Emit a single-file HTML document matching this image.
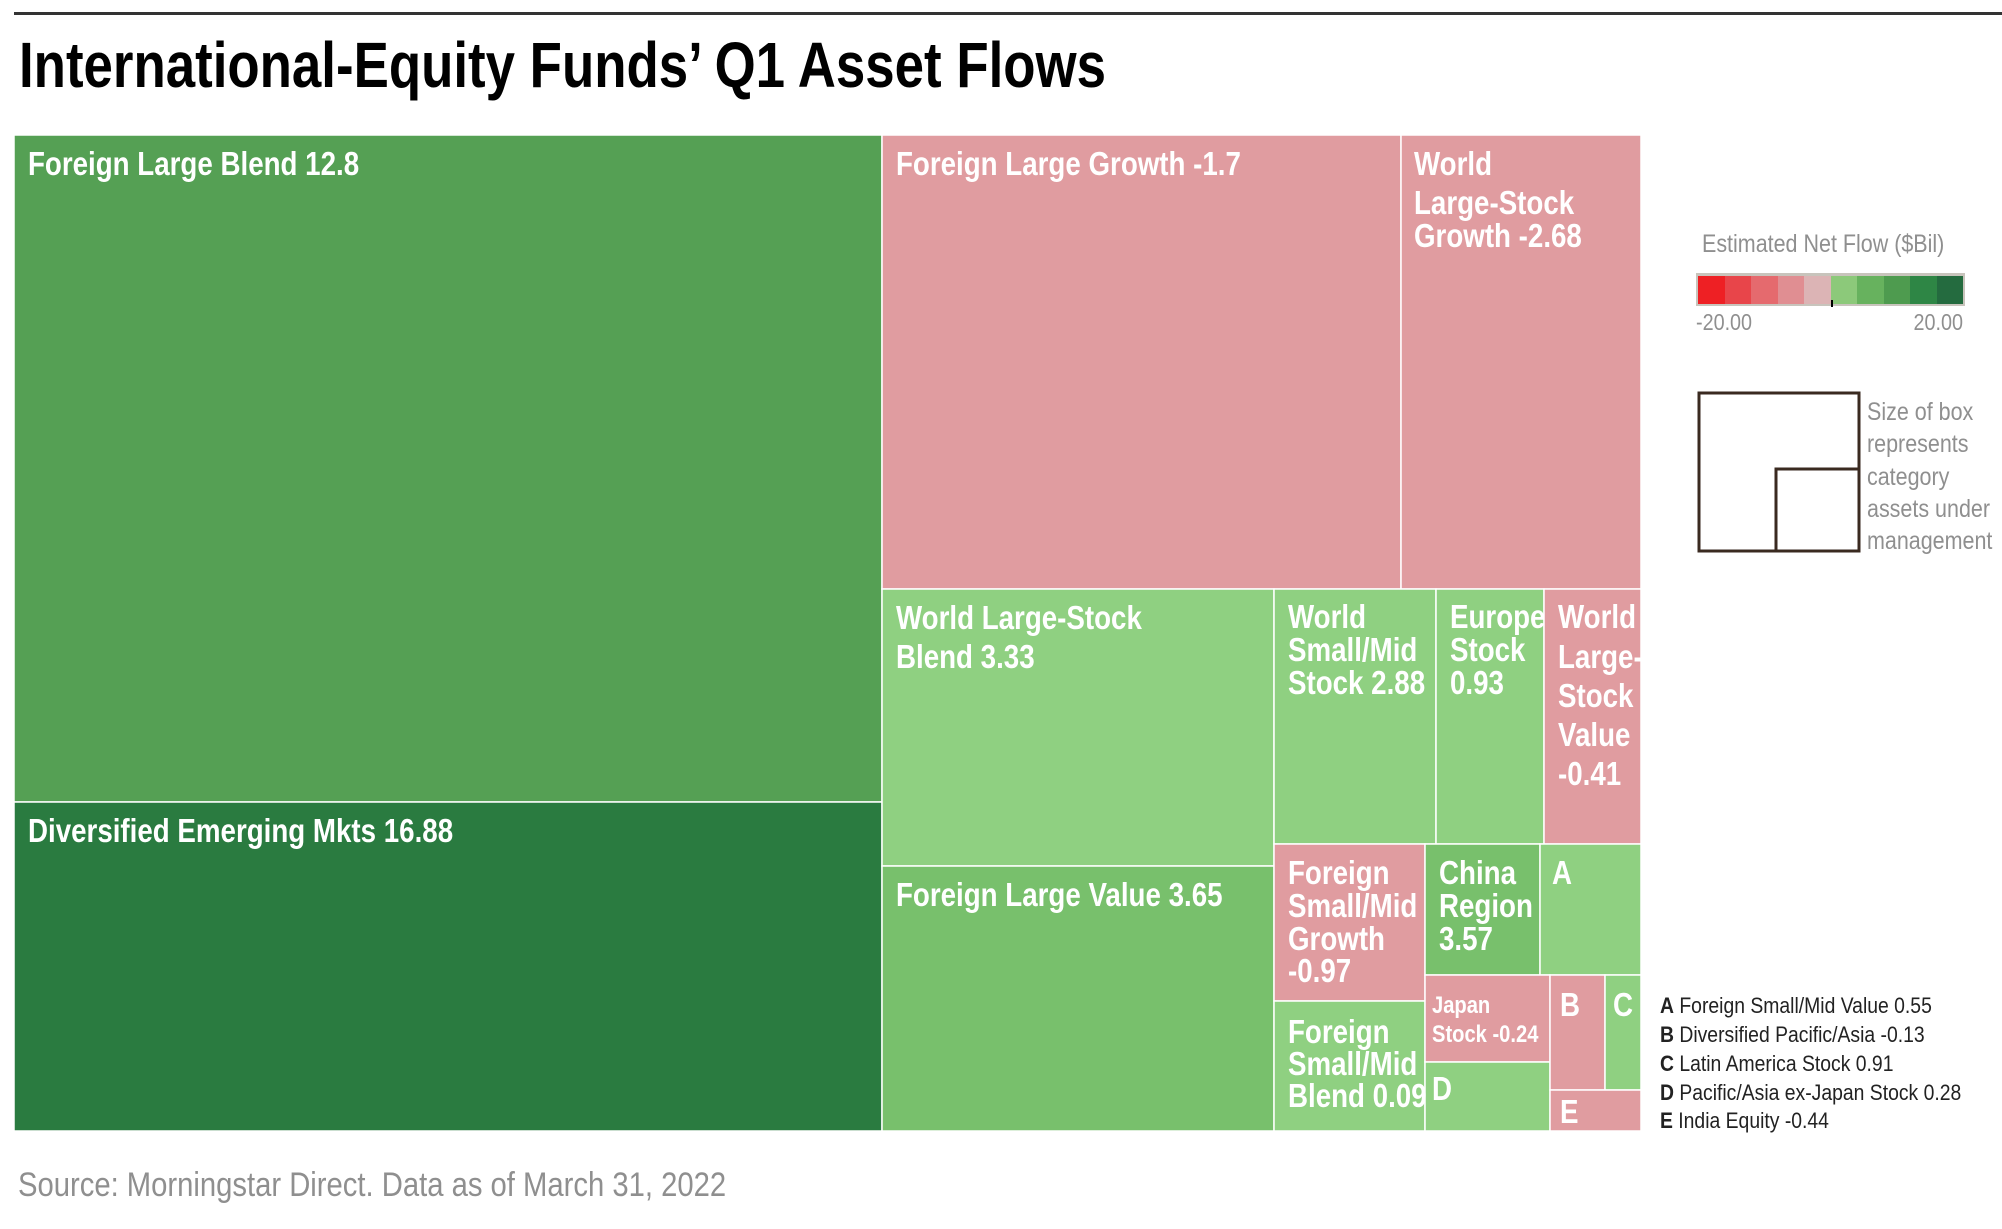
<!DOCTYPE html>
<html><head><meta charset="utf-8"><style>
html,body{margin:0;padding:0;background:#fff;}
svg{display:block;}
text{transform-box:fill-box;transform-origin:0 0;}
.l{font-family:"Liberation Sans Narrow","Liberation Sans",sans-serif;font-weight:bold;fill:#fff;font-size:33px;transform:scaleX(0.84);}
.s{font-size:24px;}
.g{font-family:"Liberation Sans Narrow","Liberation Sans",sans-serif;fill:#8f8f8f;transform:scaleX(0.86);}
.k{font-family:"Liberation Sans Narrow","Liberation Sans",sans-serif;fill:#222;font-size:22px;transform:scaleX(0.88);}
.r{transform-origin:100% 0;}
</style></head><body>
<svg width="2002" height="1229" viewBox="0 0 2002 1229" xmlns="http://www.w3.org/2000/svg">
<rect x="14" y="12" width="1988" height="3" fill="#333"/>
<text x="19" y="87" font-family="Liberation Sans Narrow, Liberation Sans, sans-serif" font-weight="bold" font-size="64" fill="#000" textLength="1087" lengthAdjust="spacingAndGlyphs">International-Equity Funds’ Q1 Asset Flows</text>

<g stroke="#fff" stroke-width="1.5">
<rect x="14" y="135" width="868" height="667" fill="#55a054"/>
<rect x="14" y="802" width="868" height="329" fill="#2a7b40"/>
<rect x="882" y="135" width="519" height="454" fill="#e09ca0"/>
<rect x="1401" y="135" width="240" height="454" fill="#e09ca0"/>
<rect x="882" y="589" width="392" height="277" fill="#8fd081"/>
<rect x="882" y="866" width="392" height="265" fill="#78c06c"/>
<rect x="1274" y="589" width="162" height="255" fill="#8fd081"/>
<rect x="1436" y="589" width="108" height="255" fill="#8fd081"/>
<rect x="1544" y="589" width="97" height="255" fill="#e09ca0"/>
<rect x="1274" y="844" width="151" height="157" fill="#e09ca0"/>
<rect x="1274" y="1001" width="151" height="130" fill="#8fd081"/>
<rect x="1425" y="844" width="115" height="131" fill="#78c06c"/>
<rect x="1540" y="844" width="101" height="131" fill="#8fd081"/>
<rect x="1425" y="975" width="125" height="87" fill="#e09ca0"/>
<rect x="1425" y="1062" width="125" height="69" fill="#8fd081"/>
<rect x="1550" y="975" width="55" height="115" fill="#e09ca0"/>
<rect x="1605" y="975" width="36" height="115" fill="#8fd081"/>
<rect x="1550" y="1090" width="91" height="41" fill="#e09ca0"/>
</g>

<text class="l" x="28" y="175">Foreign Large Blend 12.8</text>
<text class="l" x="28" y="842">Diversified Emerging Mkts 16.88</text>
<text class="l" x="896" y="175">Foreign Large Growth -1.7</text>
<text class="l" x="1414" y="175">World</text>
<text class="l" x="1414" y="214">Large-Stock</text>
<text class="l" x="1414" y="247">Growth -2.68</text>
<text class="l" x="896" y="629">World Large-Stock</text>
<text class="l" x="896" y="668">Blend 3.33</text>
<text class="l" x="896" y="906">Foreign Large Value 3.65</text>
<text class="l" x="1288" y="628">World</text>
<text class="l" x="1288" y="661">Small/Mid</text>
<text class="l" x="1288" y="694">Stock 2.88</text>
<text class="l" x="1450" y="628">Europe</text>
<text class="l" x="1450" y="661">Stock</text>
<text class="l" x="1450" y="694">0.93</text>
<text class="l" x="1558" y="628">World</text>
<text class="l" x="1558" y="668">Large-</text>
<text class="l" x="1558" y="707">Stock</text>
<text class="l" x="1558" y="746">Value</text>
<text class="l" x="1558" y="785">-0.41</text>
<text class="l" x="1288" y="884">Foreign</text>
<text class="l" x="1288" y="917">Small/Mid</text>
<text class="l" x="1288" y="950">Growth</text>
<text class="l" x="1288" y="982">-0.97</text>
<text class="l" x="1439" y="884">China</text>
<text class="l" x="1439" y="917">Region</text>
<text class="l" x="1439" y="950">3.57</text>
<text class="l" x="1552" y="884">A</text>
<text class="l" x="1288" y="1043">Foreign</text>
<text class="l" x="1288" y="1075">Small/Mid</text>
<text class="l" x="1288" y="1107">Blend 0.09</text>
<text class="l s" x="1432" y="1013">Japan</text>
<text class="l s" x="1432" y="1042">Stock -0.24</text>
<text class="l" x="1432" y="1100">D</text>
<text class="l" x="1560" y="1016">B</text>
<text class="l" x="1613" y="1016">C</text>
<text class="l" x="1560" y="1123">E</text>

<text class="g" x="1702" y="252" font-size="25">Estimated Net Flow ($Bil)</text>
<rect x="1696" y="273" width="269" height="33" fill="#c8c4bc"/>
<g>
<rect x="1698" y="276" width="27" height="28" fill="#ee2024"/>
<rect x="1725" y="276" width="26" height="28" fill="#e8454a"/>
<rect x="1751" y="276" width="27" height="28" fill="#e56a6e"/>
<rect x="1778" y="276" width="26" height="28" fill="#e08e92"/>
<rect x="1804" y="276" width="27" height="28" fill="#dcb4b5"/>
<rect x="1831" y="276" width="26" height="28" fill="#8cc97a"/>
<rect x="1857" y="276" width="27" height="28" fill="#67b25e"/>
<rect x="1884" y="276" width="26" height="28" fill="#4e9b4f"/>
<rect x="1910" y="276" width="27" height="28" fill="#2e8645"/>
<rect x="1937" y="276" width="26" height="28" fill="#246b3f"/>
</g>
<rect x="1831" y="300" width="2" height="7" fill="#000"/>
<text class="g" x="1696" y="330" font-size="23">-20.00</text>
<text class="g r" x="1963" y="330" font-size="23" text-anchor="end">20.00</text>

<rect x="1699" y="393" width="160" height="158" fill="none" stroke="#3a2a20" stroke-width="3"/>
<rect x="1776" y="469" width="83" height="82" fill="none" stroke="#3a2a20" stroke-width="3"/>
<text class="g" font-size="25" x="1867" y="420">Size of box</text>
<text class="g" font-size="25" x="1867" y="452">represents</text>
<text class="g" font-size="25" x="1867" y="485">category</text>
<text class="g" font-size="25" x="1867" y="517">assets under</text>
<text class="g" font-size="25" x="1867" y="549">management</text>

<text class="k" x="1660" y="1013"><tspan font-weight="bold">A</tspan> Foreign Small/Mid Value 0.55</text>
<text class="k" x="1660" y="1042"><tspan font-weight="bold">B</tspan> Diversified Pacific/Asia -0.13</text>
<text class="k" x="1660" y="1071"><tspan font-weight="bold">C</tspan> Latin America Stock 0.91</text>
<text class="k" x="1660" y="1100"><tspan font-weight="bold">D</tspan> Pacific/Asia ex-Japan Stock 0.28</text>
<text class="k" x="1660" y="1128"><tspan font-weight="bold">E</tspan> India Equity -0.44</text>

<text class="g" x="18" y="1196" font-size="34" fill="#999">Source: Morningstar Direct. Data as of March 31, 2022</text>
</svg>
</body></html>
